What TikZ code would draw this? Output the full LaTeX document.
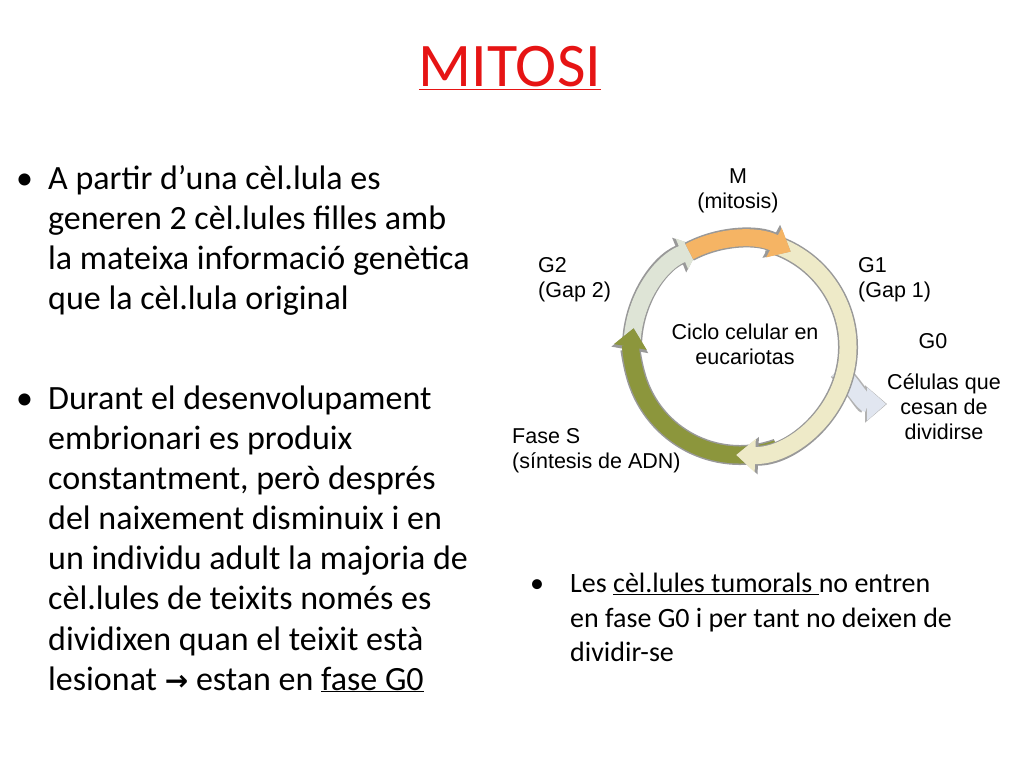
\documentclass[tikz,border=0pt]{standalone}
\usepackage{fontspec}
\setmainfont{Carlito}
\newfontfamily\arial{Liberation Sans}
\newfontfamily\dejavu{DejaVu Sans}
\usetikzlibrary{arrows.meta}
\definecolor{tred}{RGB}{230,20,20}
\definecolor{corange}{RGB}{245,180,100}
\definecolor{cg1}{RGB}{238,234,200}
\definecolor{cs}{RGB}{140,150,60}
\definecolor{cg2}{RGB}{222,228,214}
\definecolor{cg0}{RGB}{225,230,240}
\begin{document}
\begin{tikzpicture}[x=1pt,y=1pt,
  body/.style={anchor=base west,inner sep=0pt,font=\fontsize{34}{38}\selectfont},
  rbody/.style={anchor=base west,inner sep=0pt,font=\fontsize{28}{32}\selectfont},
  lab/.style={inner sep=0pt,align=center,font=\arial\fontsize{21.5}{25}\selectfont},
  outl/.style={line width=20pt,draw=gray!80,-{Triangle[length=22pt,width=36pt]}},
  band/.style={line width=17pt,-{Triangle[length=19pt,width=32pt]}}]
\useasboundingbox (0,0) rectangle (1024,768);
\fill[white] (0,0) rectangle (1024,768);
\node[text=tred,font=\fontsize{62}{68}\selectfont,inner sep=0pt] (title) at (510,700) {\underline{MITOSI}};
% left bullets
\node[body] (b1) at (16,578) {•};
\node[body] (l1) at (48,578) {A partir d’una cèl.lula es};
\node[body] (l2) at (48,538) {generen 2 cèl.lules filles amb};
\node[body] (l3) at (48,498) {la mateixa informació genètica};
\node[body] (l4) at (48,458) {que la cèl.lula original};
\node[body] (b2) at (16,358) {•};
\node[body] (m1) at (48,358) {Durant el desenvolupament};
\node[body] (m2) at (48,318) {embrionari es produix};
\node[body] (m3) at (48,278) {constantment, però després};
\node[body] (m4) at (48,238) {del naixement disminuix i en};
\node[body] (m5) at (48,198) {un individu adult la majoria de};
\node[body] (m6) at (48,158) {cèl.lules de teixits només es};
\node[body] (m7) at (48,118) {dividixen quan el teixit està};
\node[body] (m8) at (48,78) {lesionat {\dejavu\bfseries\fontsize{28}{32}\selectfont →} estan en \underline{fase G0}};
% right bullet
\node[rbody] (rb) at (530,175) {•};
\node[rbody] (r1) at (570,175) {Les \underline{cèl.lules tumorals }no entren};
\node[rbody] (r2) at (570,141) {en fase G0 i per tant no deixen de};
\node[rbody] (r3) at (570,107) {dividir-se};
% cycle
\coordinate (c) at (740,421);
\draw[outl,draw=gray!60] (838,398) to[out=-45,in=180] (887,364);
\draw[band,draw=cg0] (838,398) to[out=-45,in=180] (886,364);
\foreach \a/\b/\col in {182/112/cg2,-70/-190/cs,75/-92/cg1,118/62/corange}{
  \draw[outl] ([shift={(\a:108)}]c) arc[start angle=\a,end angle=\b,radius=108];
  \draw[band,draw=\col] ([shift={(\a:108)}]c) arc[start angle=\a,end angle=\b,radius=108];
}
\node[lab] (center) at (745,424) {Ciclo celular en\\eucariotas};
\node[lab] (M) at (738,577) {M\\(mitosis)};
\node[lab,align=left,anchor=west] (G2) at (538,488) {G2\\(Gap 2)};
\node[lab,align=left,anchor=west] (G1) at (858,488) {G1\\(Gap 1)};
\node[lab] (G0) at (933,427) {G0};
\node[lab] (cel) at (944,361) {Células que\\cesan de\\dividirse};
\node[lab,align=left,anchor=west] (S) at (512,317) {Fase S\\(síntesis de ADN)};
\end{tikzpicture}
\end{document}
